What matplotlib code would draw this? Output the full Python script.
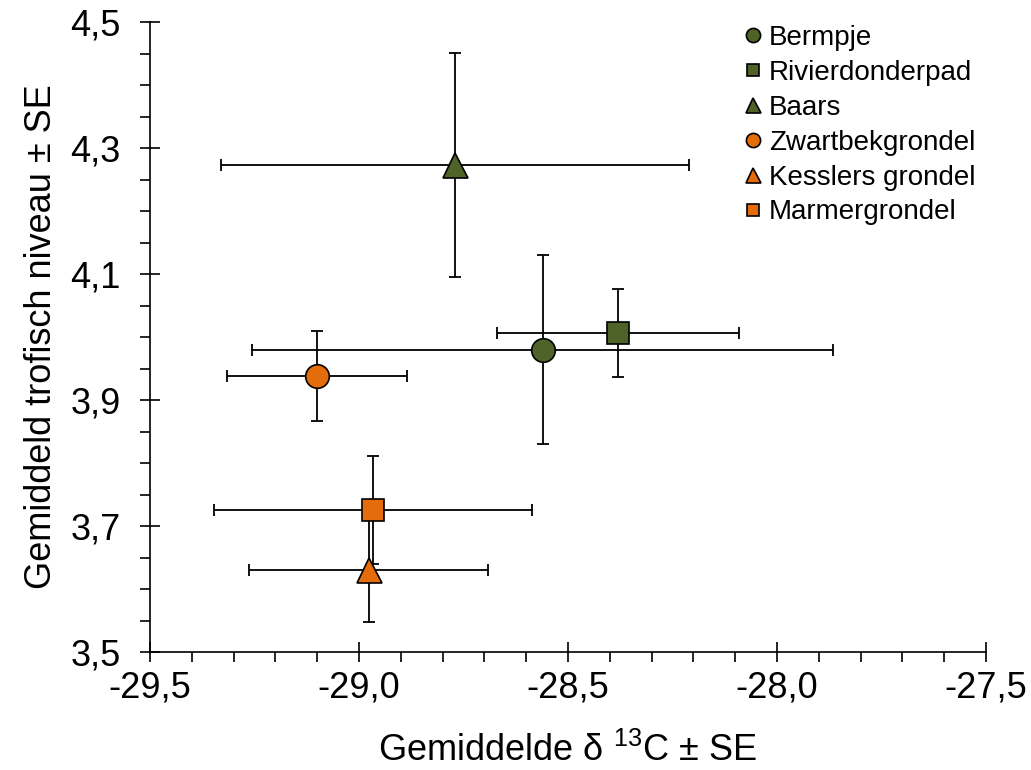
import numpy as np
import matplotlib.pyplot as plt
from matplotlib.ticker import MultipleLocator, FixedLocator, FuncFormatter

plt.rcParams['font.family'] = ['Liberation Sans', 'DejaVu Sans']
plt.rcParams['mathtext.fontset'] = 'custom'
plt.rcParams['mathtext.rm'] = 'Liberation Sans'

# Data
species = ['Bermpje', 'Rivierdonderpad', 'Baars',
           'Zwartbekgrondel', 'Kesslers grondel', 'Marmergrondel']
delta_c13 = [-28.56, -28.38, -28.77, -29.10, -28.977, -28.967]
c13_se = [0.695, 0.29, 0.56, 0.215, 0.285, 0.38]
trophic = [3.98, 4.006, 4.273, 3.938, 3.630, 3.725]
trophic_se = [0.150, 0.070, 0.178, 0.071, 0.083, 0.086]
markers = ['o', 's', '^', 'o', '^', 's']
sizes = [17, 15.5, 18, 17, 18, 15.5]
green = '#4F6228'
orange = '#E46C0A'
colors = [green, green, green, orange, orange, orange]

fig = plt.figure(figsize=(10.31, 7.70), dpi=100)
ax = fig.add_axes([0.1455, 0.1532, 0.8109, 0.8182])

for i in range(len(species)):
    ax.errorbar(delta_c13[i], trophic[i], xerr=c13_se[i], yerr=trophic_se[i],
                fmt='none', ecolor='black', elinewidth=1.3, capsize=4.5,
                capthick=1.3, zorder=2)
for i in range(len(species)):
    ax.plot(delta_c13[i], trophic[i], linestyle='none', marker=markers[i],
            markersize=sizes[i], markerfacecolor=colors[i],
            markeredgecolor='black', markeredgewidth=1.2,
            label=species[i], zorder=3)

ax.set_xlim(-29.5, -27.5)
ax.set_ylim(3.5, 4.5)
ax.xaxis.set_major_locator(MultipleLocator(0.5))
ax.xaxis.set_minor_locator(MultipleLocator(0.1))
ax.yaxis.set_major_locator(FixedLocator([3.5, 3.7, 3.9, 4.1, 4.3, 4.5]))
ax.yaxis.set_minor_locator(MultipleLocator(0.05))
fmt = FuncFormatter(lambda v, p: f'{v:.1f}'.replace('.', ','))
ax.xaxis.set_major_formatter(fmt)
ax.yaxis.set_major_formatter(fmt)

for s in ['top', 'right']:
    ax.spines[s].set_visible(False)
for s in ['left', 'bottom']:
    ax.spines[s].set_linewidth(1.2)

ax.tick_params(which='major', direction='inout', length=14, width=1.2,
               labelsize=26)
ax.tick_params(which='minor', direction='out', length=7, width=1.2)
ax.tick_params(axis='x', which='major', pad=6)
ax.tick_params(axis='y', which='major', pad=14)

ax.set_xlabel('Gemiddelde δ $^{13}$C ± SE', fontsize=26, labelpad=20)
ax.set_ylabel('Gemiddeld trofisch niveau ± SE', fontsize=26, labelpad=8)

ax.legend(loc='upper right', bbox_to_anchor=(1.017, 1.035), frameon=False,
          fontsize=20, markerscale=0.6, handletextpad=0.05,
          handlelength=1.0, labelspacing=0.32)

fig.savefig('out.png', dpi=100)
